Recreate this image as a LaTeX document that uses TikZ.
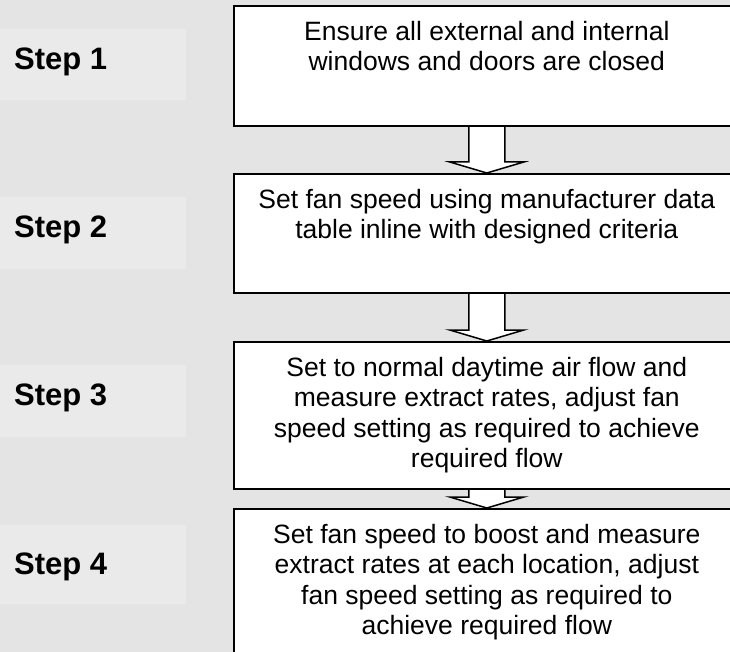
\documentclass[tikz,border=0pt]{standalone}
\usepackage{fontspec}
\setmainfont{Liberation Sans}
\usetikzlibrary{calc}
\definecolor{bgc}{HTML}{E4E4E4}
\definecolor{lblc}{HTML}{EAEAEA}
\begin{document}
\begin{tikzpicture}[x=1pt,y=-1pt,
  stepbox/.style={fill=white,draw=black,line width=1.6pt,minimum width=506pt,inner sep=0pt,anchor=north west},
  lblbox/.style={fill=lblc,draw=none,minimum width=186pt,inner sep=0pt,anchor=north west},
  steptext/.style={font=\fontsize{31}{36}\bfseries\selectfont,anchor=base west,inner sep=0pt},
  bodytext/.style={font=\fontsize{26.5}{30.5}\selectfont,align=center,anchor=north,inner sep=0pt},
  blockarrow/.style={fill=white,draw=black,line width=1.5pt,line join=miter}]
\useasboundingbox (0,0) rectangle (730,652);
\clip (0,0) rectangle (730,652);
\fill[bgc] (0,0) rectangle (730,652);
% step labels
\node[lblbox,minimum height=71pt] (l1) at (0,29) {};
\node[lblbox,minimum height=72pt] (l2) at (0,197) {};
\node[lblbox,minimum height=72pt] (l3) at (0,365) {};
\node[lblbox,minimum height=79pt] (l4) at (0,525) {};
\node[steptext] (s1) at (14,70) {Step 1};
\node[steptext] (s2) at (14,237) {Step 2};
\node[steptext] (s3) at (14,405) {Step 3};
\node[steptext] (s4) at (14,574) {Step 4};
% box outlines (named, used for arrows)
\path (233,5) node[stepbox,minimum height=120pt,draw=none,fill=none] (b1) {};
\path (233,173) node[stepbox,minimum height=119pt,draw=none,fill=none] (b2) {};
\path (233,341) node[stepbox,minimum height=147pt,draw=none,fill=none] (b3) {};
\path (233,508) node[stepbox,minimum height=165pt,draw=none,fill=none] (b4) {};
% block arrows
\foreach \a/\b in {b1/b2,b2/b3,b3/b4}{
  \draw[blockarrow] let \p1=(\a.south), \p2=(\b.north) in
    (\x1-18pt,\y1) -- (\x1-18pt,\y2+11pt) -- (\x1-37pt,\y2+11pt) -- (\x1,\y2)
    -- (\x1+37pt,\y2+11pt) -- (\x1+18pt,\y2+11pt) -- (\x1+18pt,\y1);
}
% boxes drawn
\node[stepbox,minimum height=120pt] (B1) at (233,5) {};
\node[stepbox,minimum height=119pt] (B2) at (233,173) {};
\node[stepbox,minimum height=147pt] (B3) at (233,341) {};
\node[stepbox,minimum height=165pt] (B4) at (233,508) {};
\node[bodytext] (t1) at ($(B1.north)+(0,16)$) {Ensure all external and internal\\windows and doors are closed};
\node[bodytext] (t2) at ($(B2.north)+(0,16)$) {Set fan speed using manufacturer data\\table inline with designed criteria};
\node[bodytext] (t3) at ($(B3.north)+(0,16)$) {Set to normal daytime air flow and\\measure extract rates, adjust fan\\speed setting as required to achieve\\required flow};
\node[bodytext] (t4) at ($(B4.north)+(0,16)$) {Set fan speed to boost and measure\\extract rates at each location, adjust\\fan speed setting as required to\\achieve required flow};
\end{tikzpicture}
\end{document}
